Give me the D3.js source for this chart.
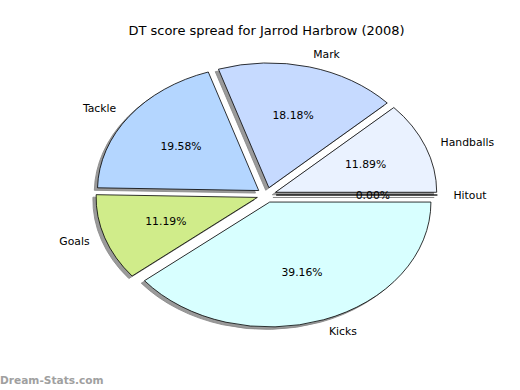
<!DOCTYPE html>
<html>
<head>
<meta charset="utf-8">
<script src="https://cdn.jsdelivr.net/npm/d3@7"></script>
<style>
  html, body { margin: 0; padding: 0; background: #fff; }
  svg { display: block; font-family: "DejaVu Sans", sans-serif; }
</style>
</head>
<body>
<svg id="chart" width="520" height="390"></svg>
<script>
// Data (matplotlib pie order, counter-clockwise from 3 o'clock)
const categories = ["Handballs", "Mark", "Tackle", "Goals", "Kicks", "Hitout"];
const values = [11.89, 18.18, 19.58, 11.19, 39.16, 0.00];
const pctLabels = ["11.89%", "18.18%", "19.58%", "11.19%", "39.16%", "0.00%"];
const colors = ["#eaf2ff", "#c6daff", "#b4d6ff", "#d0ec8a", "#d8ffff", "#eaf2ff"];
const title = "DT score spread for Jarrod Harbrow (2008)";
const watermark = "Dream-Stats.com";

const W = 520, H = 390;
const explode = 0.06;
const svg = d3.select("#chart");

// Axes box (matplotlib default subplot params), data limits -1.25..1.25
const x = d3.scaleLinear().domain([-1.25, 1.25]).range([65, 468]);
const y = d3.scaleLinear().domain([-1.25, 1.25]).range([351, 39]);
const sx = x(1) - x(0), sy = y(0) - y(1);

const pie = d3.pie().sort(null).value(d => d).startAngle(Math.PI / 2).endAngle(Math.PI / 2 + 2 * Math.PI);
const arcs = pie(values);
const arc = d3.arc().innerRadius(0).outerRadius(1);

// group in data coordinates
const g = svg.append("g").attr("transform", `translate(${x(0)},${y(0)}) scale(${sx},${-sy})`);

function mid(a) { return (a.startAngle + a.endAngle) / 2 - Math.PI / 2; } // matplotlib angle

// shadows
g.selectAll("path.shadow").data(arcs).enter().append("path")
  .attr("class", "shadow")
  .attr("transform", d => { const t = mid(d); return `translate(${explode * Math.cos(t) - 0.02},${explode * Math.sin(t) - 0.02})`; })
  .attr("d", arc)
  .attr("fill", "#888")
  .attr("fill-opacity", 0.85)
  .attr("stroke", "#888")
  .attr("stroke-opacity", 0.85)
  .attr("stroke-width", 1)
  .attr("vector-effect", "non-scaling-stroke");

// wedges
g.selectAll("path.wedge").data(arcs).enter().append("path")
  .attr("class", "wedge")
  .attr("transform", d => { const t = mid(d); return `translate(${explode * Math.cos(t)},${explode * Math.sin(t)})`; })
  .attr("d", arc)
  .attr("fill", (d, i) => colors[i])
  .attr("stroke", "#000")
  .attr("stroke-width", 0.8)
  .attr("stroke-linejoin", "round")
  .attr("vector-effect", "non-scaling-stroke");

// labels
const fs = 10.8;
arcs.forEach((d, i) => {
  const t = mid(d);
  const cxo = explode * Math.cos(t), cyo = explode * Math.sin(t);
  const lx = cxo + 1.1 * Math.cos(t), ly = cyo + 1.1 * Math.sin(t);
  svg.append("text")
    .attr("x", x(lx)).attr("y", y(ly))
    .attr("text-anchor", lx > 0 ? "start" : "end")
    .attr("dominant-baseline", "central")
    .attr("font-size", fs)
    .attr("fill", "#000")
    .text(categories[i]);
  const px = cxo + 0.6 * Math.cos(t), py = cyo + 0.6 * Math.sin(t);
  svg.append("text")
    .attr("x", x(px)).attr("y", y(py))
    .attr("text-anchor", "middle")
    .attr("dominant-baseline", "central")
    .attr("font-size", fs)
    .attr("fill", "#000")
    .text(pctLabels[i]);
});

svg.append("text")
  .attr("x", (x(-1.25) + x(1.25)) / 2).attr("y", 34.5)
  .attr("text-anchor", "middle")
  .attr("font-size", 13)
  .attr("fill", "#000")
  .text(title);

svg.append("text")
  .attr("x", 0).attr("y", 384)
  .attr("font-size", 10.6)
  .attr("font-weight", "bold")
  .attr("fill", "#a0a0a0")
  .text(watermark);
</script>
</body>
</html>
